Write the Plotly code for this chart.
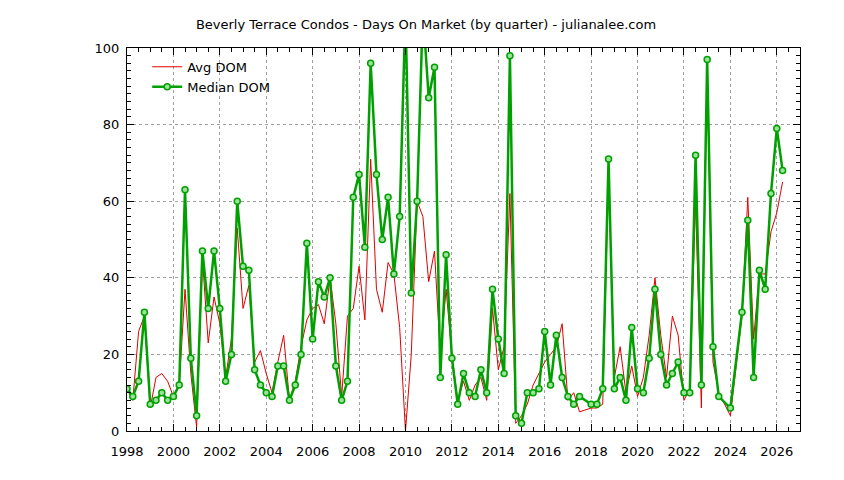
import plotly.graph_objects as go

# quarter start dates as decimal years (a few quarters had no sales)
quarters = [1998 + i * 0.25 for i in range(76)] + \
    [2017.0, 2017.25, 2017.5, 2018.0, 2018.25, 2018.5, 2018.75,
     2019.0, 2019.25, 2019.5, 2019.75, 2020.0, 2020.25, 2020.5, 2020.75,
     2021.0, 2021.25, 2021.5, 2021.75, 2022.0, 2022.25, 2022.5, 2022.75,
     2023.0, 2023.25, 2023.5, 2024.0, 2024.5, 2024.75,
     2025.0, 2025.25, 2025.5, 2025.75, 2026.0, 2026.25]

median_dom = [11, 9, 13, 31, 7, 8, 10, 8, 9, 12, 63, 19, 4, 47, 32, 47, 32, 13, 20, 60,
              43, 42, 16, 12, 10, 9, 17, 17, 8, 12, 20, 49, 24, 39, 35, 40, 17, 8, 13,
              61, 67, 48, 96, 67, 50, 61, 41, 56, 110, 36, 60, 110, 87, 95, 14, 46, 19,
              7, 15, 10, 9, 16, 10, 37, 24, 15, 98, 4, 2, 10, 10, 11, 26, 12, 25, 14,
              9, 7, 9, 7, 7, 11, 71,
              11, 14, 8, 27, 11, 10, 19, 37,
              20, 12, 15, 18, 10, 10, 72, 12,
              97, 22, 9, 6, 31, 55,
              14, 42, 37, 62, 79, 68]

avg_dom = [11, 8, 26, 30, 6, 14, 15, 13, 9, 12, 37, 15, 1, 45, 23, 35, 28, 14, 24, 53,
           32, 38, 18, 21, 15, 10, 18, 25, 8, 13, 22, 29, 32, 33, 28, 40, 28, 9, 30,
           32, 43, 29, 71, 37, 31, 44, 41, 27, 0, 20, 60, 56, 39, 47, 20, 37, 20,
           8, 13, 8, 12, 14, 8, 32, 16, 22, 62, 2, 4, 7, 12, 15, 18, 20, 22, 28,
           8, 10, 5, 6, 6, 7, 68,
           14, 22, 10, 17, 9, 14, 25, 40,
           25, 14, 30, 25, 8, 11, 60, 6,
           95, 18, 10, 4, 30, 61,
           24, 41, 41, 52, 57, 65]

fig = go.Figure()
fig.add_trace(go.Scatter(x=quarters, y=avg_dom, mode="lines", name="Avg DOM",
                         line=dict(color="#e00000", width=1)))
fig.add_trace(go.Scatter(x=quarters, y=median_dom, mode="lines+markers", name="Median DOM",
                         line=dict(color="#00a000", width=2.5),
                         marker=dict(symbol="circle", size=6, color="#9be39b",
                                     line=dict(color="#00a000", width=1.5))))

# page has an 8px body margin, so the figure is a little smaller than the window
fig.update_layout(
    width=836, height=472,
    margin=dict(l=119, r=44, t=40, b=49),
    paper_bgcolor="white", plot_bgcolor="white",
    font=dict(family="DejaVu Sans", size=13, color="black"),
    title=dict(text="Beverly Terrace Condos - Days On Market (by quarter) - julianalee.com",
               x=0.5, xanchor="center", y=0.975, font=dict(size=13)),
    legend=dict(x=0.03, y=0.99, xanchor="left", yanchor="top",
                bgcolor="rgba(0,0,0,0)", font=dict(size=13)),
)
axis_common = dict(showline=True, linecolor="black", linewidth=1, mirror="ticks",
                   ticks="inside", ticklen=7, tickcolor="black",
                   showgrid=True, gridcolor="#a0a0a0", griddash="dot", gridwidth=1,
                   zeroline=False)
fig.update_xaxes(range=[1998, 2027], dtick=2, tick0=1998, ticklabelstandoff=8,
                 minor=dict(ticks="inside", ticklen=4, dtick=0.5, tickcolor="black"),
                 **axis_common)
fig.update_yaxes(range=[0, 100], dtick=20, ticklabelstandoff=4,
                 minor=dict(ticks="inside", ticklen=4, dtick=2, tickcolor="black"),
                 **axis_common)

fig.write_html("out.html")
